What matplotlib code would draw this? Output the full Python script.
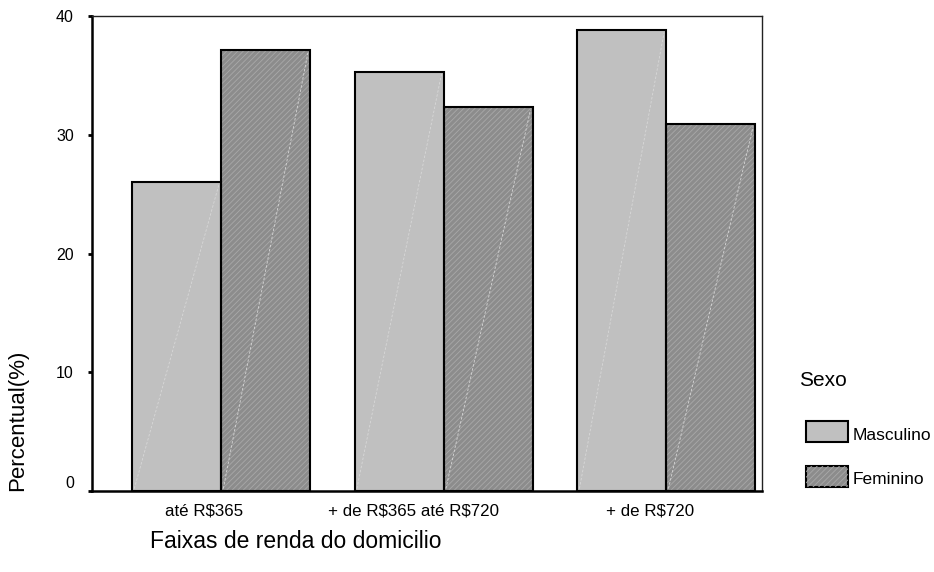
import numpy as np
import matplotlib.pyplot as plt
import matplotlib.transforms as mtransforms
from matplotlib.patches import Rectangle

plt.rcParams['font.family'] = ['Liberation Sans', 'DejaVu Sans']
plt.rcParams['text.parse_math'] = False
plt.rcParams['hatch.linewidth'] = 0.6

categorias = ['até R$365', '+ de R$365 até R$720', '+ de R$720']
masculino  = [26.0, 35.3, 38.8]
feminino   = [37.1, 32.3, 30.9]

cor_masc  = '#c0c0c0'
cor_fem   = '#8c8c8c'
cor_hatch = '#a9a9a9'

fig = plt.figure(figsize=(9.34, 5.72), dpi=100)
ax  = fig.add_axes([0.0985, 0.1416, 0.7173, 0.8304])

x       = np.arange(len(categorias))
largura = 0.4

def barras(pos, vals, face, hatch=None):
    ax.bar(pos, vals, largura, color=face, edgecolor=cor_hatch if hatch else face,
           hatch=hatch, linewidth=0, zorder=2)
    ax.bar(pos, vals, largura, fill=False, edgecolor='black', linewidth=1.5, zorder=4)
    # linha diagonal clara (artefato do SPSS)
    for p, v in zip(pos, vals):
        ax.plot([p - largura / 2 + 0.01, p + largura / 2 - 0.01], [0.2, v - 0.2],
                color='#d8d8d8', lw=0.6, ls=(0, (3, 2)), zorder=3)

barras(x - largura / 2, masculino, cor_masc)
barras(x + largura / 2, feminino, cor_fem, hatch='//////')

ax.set_xlim(-0.58, 2.43)
ax.set_ylim(0, 40)
ax.set_yticks([0, 10, 20, 30, 40])
ax.tick_params(axis='y', length=3, width=2, pad=10, labelsize=11.5)

ax.set_xticks(x + np.array([-0.076, -0.137, -0.072]))
ax.set_xticklabels(categorias, fontsize=12.2)
ax.tick_params(axis='x', length=0, pad=9)

# o rótulo "0" fica um pouco acima da linha de base no original
fig.canvas.draw()
lbl0 = ax.get_yticklabels()[0]
lbl0.set_transform(lbl0.get_transform() +
                   mtransforms.ScaledTranslation(0, 9 / 100, fig.dpi_scale_trans))

for s in ['left', 'bottom']:
    ax.spines[s].set_linewidth(1.8)
for s in ['top', 'right']:
    ax.spines[s].set_linewidth(1.0)
    ax.spines[s].set_color('#222222')

fig.text(18 / 934, 1 - 420 / 572, 'Percentual(%)', rotation=90, fontsize=16,
         ha='center', va='center')
fig.text(150 / 934, 1 - 541 / 572, 'Faixas de renda do domicilio', fontsize=16.5,
         ha='left', va='center')

# legenda
fig.text(799 / 934, 1 - 381 / 572, 'Sexo', fontsize=15, ha='left', va='center')
fig.patches.append(Rectangle((806 / 934, 1 - 442 / 572), 42 / 934, 21 / 572,
                             transform=fig.transFigure, facecolor=cor_masc,
                             edgecolor='black', linewidth=1.5))
fig.patches.append(Rectangle((806 / 934, 1 - 487 / 572), 42 / 934, 21 / 572,
                             transform=fig.transFigure, facecolor=cor_fem,
                             edgecolor='black', linewidth=1.5))
fig.patches.append(Rectangle((806 / 934, 1 - 487 / 572), 42 / 934, 21 / 572,
                             transform=fig.transFigure, facecolor='none', hatch='//////',
                             edgecolor=cor_hatch, linewidth=0))
fig.text(853 / 934, 1 - 435 / 572, 'Masculino', fontsize=12.5, ha='left', va='center')
fig.text(853 / 934, 1 - 480 / 572, 'Feminino', fontsize=12.5, ha='left', va='center')

plt.savefig('out.png', dpi=100)
